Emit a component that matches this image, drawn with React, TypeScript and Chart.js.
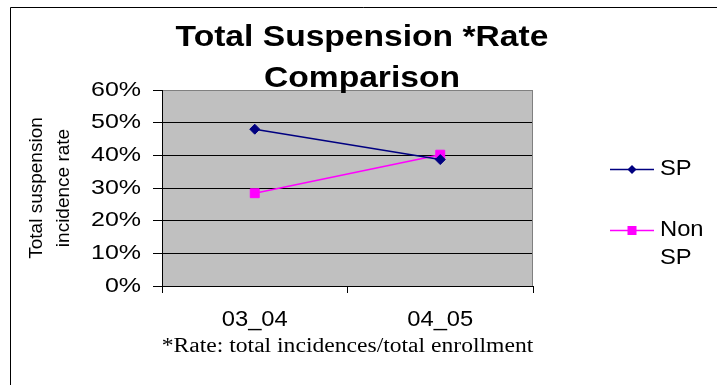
import React, { useEffect, useRef } from 'react';
import { Chart, registerables } from 'chart.js';

Chart.register(...registerables);

const categories = ['03_04', '04_05'];
const spValues = [48.0, 38.7];
const nonSpValues = [28.4, 40.2];
const yTickValues = [0, 10, 20, 30, 40, 50, 60];
const yTickLabels = ['0%', '10%', '20%', '30%', '40%', '50%', '60%'];
const seriesNames = ['SP', 'Non SP'];
const legendLines = [['SP'], ['Non', 'SP']];
const titleLines = ['Total Suspension *Rate', 'Comparison'];
const yAxisTitleLines = ['Total suspension', 'incidence rate'];
const footnoteText = '*Rate: total incidences/total enrollment';

const SANS = '"Liberation Sans", Arial, sans-serif';
const SERIF = '"Liberation Serif", "Times New Roman", serif';
const SP_COLOR = '#000080';
const NON_SP_COLOR = '#FF00FF';
const PLOT_BG = '#C0C0C0';

// horizontal stretch of the source picture, by font size
const STRETCH_BY_SIZE: Record<string, number> = { '21': 1.19, '22': 1.08, '30': 1.12, '20': 1.18 };

function installStretch(ctx: CanvasRenderingContext2D) {
  const orig = ctx.fillText.bind(ctx);
  (ctx as any).fillText = (text: string, x: number, y: number, maxWidth?: number) => {
    const m = /(\d+(?:\.\d+)?)px/.exec(ctx.font);
    const sx = m ? STRETCH_BY_SIZE[m[1]] || 1 : 1;
    const call = () => (maxWidth === undefined ? orig(text, x, y) : orig(text, x, y, maxWidth));
    if (sx === 1) { call(); return; }
    const t = ctx.getTransform();
    const p = t.transformPoint(new DOMPoint(x, y));
    const s = new DOMMatrix().translate(p.x, p.y).scale(sx, 1).translate(-p.x, -p.y).multiply(t);
    ctx.setTransform(s);
    call();
    ctx.setTransform(t);
  };
}

function drawMarker(ctx: CanvasRenderingContext2D, style: string, x: number, y: number, color: string) {
  ctx.fillStyle = color;
  ctx.beginPath();
  if (style === 'rectRot') {
    const r = 4.5;
    ctx.moveTo(x, y - r); ctx.lineTo(x + r, y); ctx.lineTo(x, y + r); ctx.lineTo(x - r, y);
    ctx.closePath();
  } else {
    ctx.rect(x - 4.5, y - 4.5, 9, 9);
  }
  ctx.fill();
}

const decorPlugin = {
  id: 'decor',
  beforeDraw(chart: any) {
    const { ctx, chartArea: a, width, height } = chart;
    ctx.save();
    ctx.fillStyle = '#ffffff';
    ctx.fillRect(0, 0, width, height);
    ctx.fillStyle = PLOT_BG;
    ctx.fillRect(a.left, a.top, a.right - a.left, a.bottom - a.top);
    ctx.strokeStyle = '#000';
    ctx.lineWidth = 1;
    ctx.beginPath();
    ctx.moveTo(10.5, height);
    ctx.lineTo(10.5, 7.5);
    ctx.lineTo(width, 7.5);
    ctx.stroke();
    ctx.restore();
  },
  beforeDatasetsDraw(chart: any) {
    const { ctx, chartArea: a } = chart;
    ctx.save();
    ctx.strokeStyle = '#808080';
    ctx.lineWidth = 1;
    ctx.beginPath();
    ctx.moveTo(Math.round(a.right) - 0.5, a.top);
    ctx.lineTo(Math.round(a.right) - 0.5, a.bottom);
    ctx.stroke();
    ctx.restore();
  },
  afterDraw(chart: any) {
    const { ctx, chartArea: a } = chart;
    ctx.save();
    // title
    ctx.fillStyle = '#000';
    ctx.textAlign = 'center';
    ctx.textBaseline = 'alphabetic';
    ctx.font = `bold 30px ${SANS}`;
    ctx.fillText(titleLines[0], 362, 46);
    ctx.fillText(titleLines[1], 362, 87);
    // footnote
    ctx.font = `20px ${SERIF}`;
    ctx.fillText(footnoteText, (a.left + a.right) / 2, 352);
    // legend
    const items = [
      { y: 169, color: SP_COLOR, style: 'rectRot', lines: legendLines[0] },
      { y: 230, color: NON_SP_COLOR, style: 'rect', lines: legendLines[1] },
    ];
    ctx.font = `22px ${SANS}`;
    ctx.textAlign = 'left';
    ctx.textBaseline = 'middle';
    items.forEach((it) => {
      ctx.strokeStyle = it.color;
      ctx.lineWidth = 1.5;
      ctx.beginPath();
      ctx.moveTo(610, it.y + 0.5);
      ctx.lineTo(654, it.y + 0.5);
      ctx.stroke();
      drawMarker(ctx, it.style, 632, it.y + 0.5, it.color);
      ctx.fillStyle = '#000';
      it.lines.forEach((ln, i) => ctx.fillText(ln, 660, it.y + i * 28));
    });
    ctx.restore();
  },
};

export default function App() {
  const ref = useRef<HTMLCanvasElement | null>(null);

  useEffect(() => {
    const canvas = ref.current;
    if (!canvas) return;
    const ctx = canvas.getContext('2d') as CanvasRenderingContext2D;
    installStretch(ctx);

    const chart = new Chart(ctx, {
      type: 'line',
      data: {
        labels: categories,
        datasets: [
          {
            label: seriesNames[0],
            data: spValues,
            borderColor: SP_COLOR,
            backgroundColor: SP_COLOR,
            borderWidth: 1.5,
            pointStyle: 'rectRot',
            pointRadius: 5,
            pointBorderWidth: 1,
            pointBorderColor: SP_COLOR,
            pointBackgroundColor: SP_COLOR,
          },
          {
            label: seriesNames[1],
            data: nonSpValues,
            borderColor: NON_SP_COLOR,
            backgroundColor: NON_SP_COLOR,
            borderWidth: 1.5,
            pointStyle: 'rect',
            pointRadius: 6.3,
            pointBorderWidth: 1,
            pointBorderColor: NON_SP_COLOR,
            pointBackgroundColor: NON_SP_COLOR,
          },
        ],
      },
      options: {
        animation: false,
        responsive: false,
        devicePixelRatio: 1,
        layout: { padding: { top: 90, right: 184, left: 0, bottom: 0 } },
        plugins: {
          legend: { display: false },
          title: { display: false },
          tooltip: { enabled: false },
        },
        scales: {
          x: {
            type: 'category',
            offset: true,
            grid: {
              offset: true,
              drawOnChartArea: false,
              drawTicks: true,
              tickLength: 7,
              color: '#000',
            },
            border: { display: true, color: '#000', width: 1 },
            ticks: {
              color: '#000',
              font: { family: SANS, size: 22 },
              padding: 14,
              maxRotation: 0,
            },
            afterFit: (s: any) => { s.height = 99; },
          },
          y: {
            min: 0,
            max: 60,
            afterBuildTicks: (s: any) => { s.ticks = yTickValues.map((v) => ({ value: v })); },
            ticks: {
              color: '#000',
              font: { family: SANS, size: 21 },
              padding: 12,
              callback: (_v: any, i: number) => yTickLabels[i],
            },
            grid: {
              color: (c: any) => (c.tick && c.tick.value === 60 ? '#808080' : '#000'),
              tickColor: '#000',
              tickLength: 9,
              lineWidth: 1,
            },
            border: { display: true, color: '#000', width: 1 },
            title: {
              display: true,
              text: yAxisTitleLines,
              color: '#000',
              font: { family: SANS, size: 19, lineHeight: 27 / 19 },
              padding: { top: 23, bottom: 0 },
            },
            afterFit: (s: any) => { s.width = 162; },
          },
        },
      },
      plugins: [decorPlugin],
    });
    return () => chart.destroy();
  }, []);

  return (
    <div style={{ position: 'absolute', left: 0, top: 0, width: 717, height: 385, background: '#fff' }}>
      <canvas ref={ref} width={717} height={385} style={{ display: 'block', width: 717, height: 385 }} />
    </div>
  );
}
